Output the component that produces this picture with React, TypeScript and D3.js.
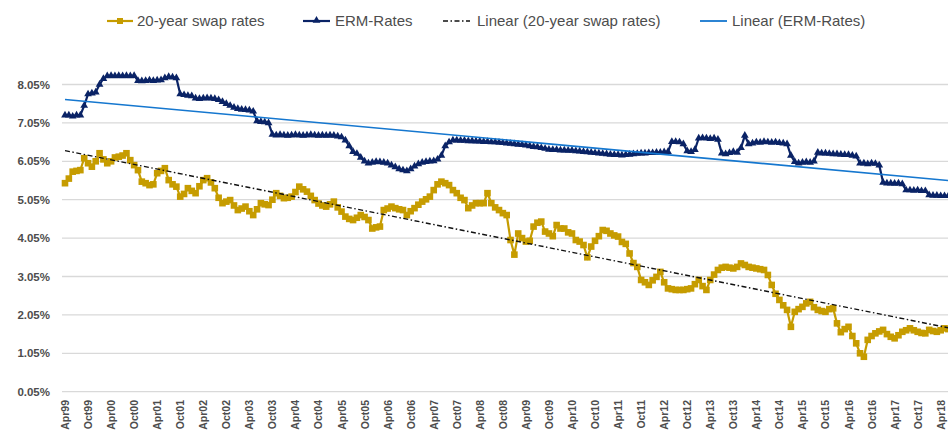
import React from "react";
import * as d3 from "d3";

// ---- data (monthly, Apr99 .. Jun18), values in percent ----
const tickLabels = [
  "Apr99","Oct99","Apr00","Oct00","Apr01","Oct01","Apr02","Oct02","Apr03","Oct03",
  "Apr04","Oct04","Apr05","Oct05","Apr06","Oct06","Apr07","Oct07","Apr08","Oct08",
  "Apr09","Oct09","Apr10","Oct10","Apr11","Oct11","Apr12","Oct12","Apr13","Oct13",
  "Apr14","Oct14","Apr15","Oct15","Apr16","Oct16","Apr17","Oct17","Apr18",
];
const yTicks = [0.05, 1.05, 2.05, 3.05, 4.05, 5.05, 6.05, 7.05, 8.05];

const swapRates = [
  5.48,5.6,5.78,5.8,5.82,6.13,6.0,5.91,6.05,6.26,
  6.1,6.0,6.05,6.15,6.17,6.2,6.26,6.08,5.95,5.82,
  5.52,5.48,5.43,5.45,5.74,5.8,5.87,5.56,5.45,5.39,
  5.13,5.2,5.35,5.28,5.22,5.4,5.56,5.61,5.5,5.35,
  5.1,4.96,5.0,5.04,4.9,4.78,4.82,4.87,4.75,4.65,
  4.8,4.96,4.93,4.91,5.05,5.22,5.15,5.09,5.1,5.13,
  5.25,5.39,5.32,5.26,5.15,5.04,4.95,4.9,4.87,4.93,
  5.0,4.85,4.74,4.61,4.55,4.52,4.58,4.65,4.6,4.52,
  4.3,4.33,4.35,4.78,4.82,4.87,4.83,4.8,4.78,4.65,
  4.75,4.83,4.92,5.0,5.06,5.13,5.3,5.45,5.52,5.48,
  5.43,5.3,5.22,5.1,5.04,4.83,4.9,4.96,4.96,4.96,
  5.22,4.96,4.85,4.78,4.7,4.65,4.0,3.62,4.17,4.05,
  3.96,3.98,4.35,4.45,4.48,4.22,4.17,4.1,4.39,4.3,
  4.3,4.2,4.17,4.0,3.96,3.87,3.55,3.83,3.98,4.1,
  4.26,4.24,4.17,4.12,4.09,3.95,3.9,3.65,3.4,3.3,
  2.96,2.9,2.83,2.95,3.04,3.17,2.9,2.74,2.72,2.7,
  2.7,2.7,2.72,2.74,2.85,2.96,2.8,2.7,2.96,3.1,
  3.22,3.28,3.3,3.28,3.26,3.3,3.39,3.35,3.3,3.28,
  3.26,3.24,3.22,3.09,2.83,2.6,2.44,2.3,2.18,1.74,
  2.13,2.2,2.26,2.35,2.39,2.25,2.18,2.15,2.13,2.2,
  2.22,1.83,1.6,1.68,1.74,1.5,1.31,1.05,0.96,1.4,
  1.5,1.57,1.62,1.66,1.55,1.48,1.44,1.52,1.61,1.65,
  1.7,1.65,1.61,1.58,1.57,1.66,1.63,1.61,1.65,1.7,
  1.68,
];

const ermRates = [
  7.25,7.25,7.22,7.25,7.25,7.5,7.8,7.82,7.85,8.05,
  8.2,8.27,8.28,8.27,8.28,8.27,8.28,8.27,8.28,8.15,
  8.14,8.15,8.16,8.15,8.16,8.17,8.22,8.25,8.24,8.22,
  7.8,7.78,7.76,7.75,7.69,7.68,7.69,7.7,7.69,7.68,
  7.65,7.6,7.55,7.5,7.45,7.42,7.4,7.39,7.38,7.35,
  7.1,7.08,7.07,7.05,6.75,6.73,6.74,6.73,6.72,6.73,
  6.74,6.73,6.72,6.73,6.74,6.73,6.72,6.73,6.72,6.73,
  6.72,6.7,6.68,6.6,6.45,6.3,6.25,6.15,6.05,6.0,
  6.02,6.04,6.03,6.02,6.0,5.95,5.9,5.85,5.82,5.8,
  5.85,5.92,5.98,6.02,6.04,6.05,6.06,6.1,6.2,6.45,
  6.55,6.6,6.6,6.59,6.59,6.58,6.58,6.57,6.57,6.56,
  6.56,6.55,6.55,6.54,6.53,6.52,6.51,6.5,6.49,6.48,
  6.47,6.45,6.43,6.42,6.4,6.38,6.36,6.35,6.35,6.34,
  6.34,6.33,6.33,6.32,6.31,6.3,6.29,6.28,6.27,6.26,
  6.25,6.24,6.23,6.22,6.22,6.21,6.22,6.23,6.24,6.25,
  6.26,6.26,6.27,6.27,6.28,6.28,6.29,6.3,6.56,6.56,
  6.55,6.5,6.32,6.3,6.35,6.65,6.66,6.65,6.64,6.65,
  6.62,6.26,6.24,6.27,6.3,6.28,6.4,6.72,6.5,6.52,
  6.55,6.54,6.56,6.55,6.54,6.55,6.53,6.52,6.5,6.2,
  6.04,6.0,6.02,6.03,6.02,6.05,6.28,6.26,6.26,6.25,
  6.24,6.24,6.23,6.22,6.22,6.2,6.18,6.0,6.0,5.98,
  6.0,5.99,5.95,5.5,5.48,5.48,5.47,5.48,5.46,5.3,
  5.3,5.29,5.3,5.28,5.28,5.17,5.16,5.16,5.15,5.15,
  5.15,
];

const GOLD = "#C69C00";
const NAVY = "#0A2366";
const BLUE = "#1577CF";
const TEXT = "#4d4d4d";
const GRID = "#d9d9d9";
const FONT = "'Liberation Sans', Arial, sans-serif";

function linreg(vals: number[]) {
  const n = vals.length;
  const mx = d3.mean(vals, (_, i) => i) as number;
  const my = d3.mean(vals) as number;
  let sxy = 0, sxx = 0;
  vals.forEach((v, i) => { sxy += (i - mx) * (v - my); sxx += (i - mx) * (i - mx); });
  const b = sxy / sxx;
  const a = my - b * mx;
  return [0, n - 1].map((i) => ({ i, v: a + b * i }));
}

export default function App() {
  const W = 948, H = 435;
  const x = d3.scaleLinear().domain([0, 228]).range([65, 940.7]);
  const y = d3.scaleLinear().domain([0.05, 8.05]).range([391.7, 84.5]);
  const line = d3.line<number>().x((_, i) => x(i)).y((v) => y(v));
  const tline = d3.line<{ i: number; v: number }>().x((d) => x(d.i)).y((d) => y(d.v));
  const tri = d3.symbol(d3.symbolTriangle, 26)() as string;
  const swapTrend = linreg(swapRates);
  const ermTrend = linreg(ermRates);

  const legend = [
    { lx: 107, tx: 137, label: "20-year swap rates", kind: "swap" },
    { lx: 303, tx: 335, label: "ERM-Rates", kind: "erm" },
    { lx: 443, tx: 477, label: "Linear (20-year swap rates)", kind: "lswap" },
    { lx: 700, tx: 732, label: "Linear (ERM-Rates)", kind: "lerm" },
  ];

  return (
    <svg width={W} height={H} style={{ position: "absolute", left: 0, top: 0, background: "#fff" }}
      fontFamily={FONT}>
      <rect width={W} height={H} fill="#fff" />
      {/* gridlines */}
      {yTicks.map((t) => (
        <g key={t}>
          <line x1={62} x2={W} y1={y(t)} y2={y(t)} stroke={GRID} strokeWidth={1.3} />
          <text x={50} y={y(t)} dy="0.35em" textAnchor="end" fontSize={11.5} fontWeight={600} fill={TEXT}>
            {t.toFixed(2)}%
          </text>
        </g>
      ))}
      {/* x tick labels */}
      {tickLabels.map((lab, k) => (
        <text key={lab} transform={`translate(${x(k * 6) + 4},400) rotate(-90)`} textAnchor="end"
          fontSize={10.5} fontWeight={600} fill={TEXT}>
          {lab}
        </text>
      ))}
      {/* series */}
      <path d={line(swapRates) as string} fill="none" stroke={GOLD} strokeWidth={2.2} />
      {swapRates.map((v, i) => (
        <rect key={"s" + i} x={x(i) - 3.3} y={y(v) - 3.3} width={6.6} height={6.6} fill={GOLD} />
      ))}
      <path d={line(ermRates) as string} fill="none" stroke={NAVY} strokeWidth={2.2} />
      {ermRates.map((v, i) => (
        <path key={"e" + i} d={tri} transform={`translate(${x(i)},${y(v)})`} fill={NAVY} />
      ))}
      {/* trend lines */}
      <path d={tline(swapTrend) as string} fill="none" stroke="#111" strokeWidth={1.4}
        strokeDasharray="5 2.5 1.5 2.5" />
      <path d={tline(ermTrend) as string} fill="none" stroke={BLUE} strokeWidth={1.6} />
      {/* legend */}
      {legend.map((l) => (
        <g key={l.label}>
          {l.kind === "swap" && (
            <>
              <line x1={l.lx} x2={l.lx + 26} y1={21} y2={21} stroke={GOLD} strokeWidth={2.2} />
              <rect x={l.lx + 10} y={18} width={6} height={6} fill={GOLD} />
            </>
          )}
          {l.kind === "erm" && (
            <>
              <line x1={l.lx} x2={l.lx + 27} y1={21} y2={21} stroke={NAVY} strokeWidth={2.2} />
              <path d={tri} transform={`translate(${l.lx + 13.5},20.5)`} fill={NAVY} />
            </>
          )}
          {l.kind === "lswap" && (
            <line x1={l.lx} x2={l.lx + 27} y1={21} y2={21} stroke="#111" strokeWidth={1.6}
              strokeDasharray="5 2.5 1.5 2.5" />
          )}
          {l.kind === "lerm" && (
            <line x1={l.lx} x2={l.lx + 27} y1={21} y2={21} stroke={BLUE} strokeWidth={1.8} />
          )}
          <text x={l.tx} y={21} dy="0.35em" fontSize={15} fill={TEXT}>{l.label}</text>
        </g>
      ))}
    </svg>
  );
}
